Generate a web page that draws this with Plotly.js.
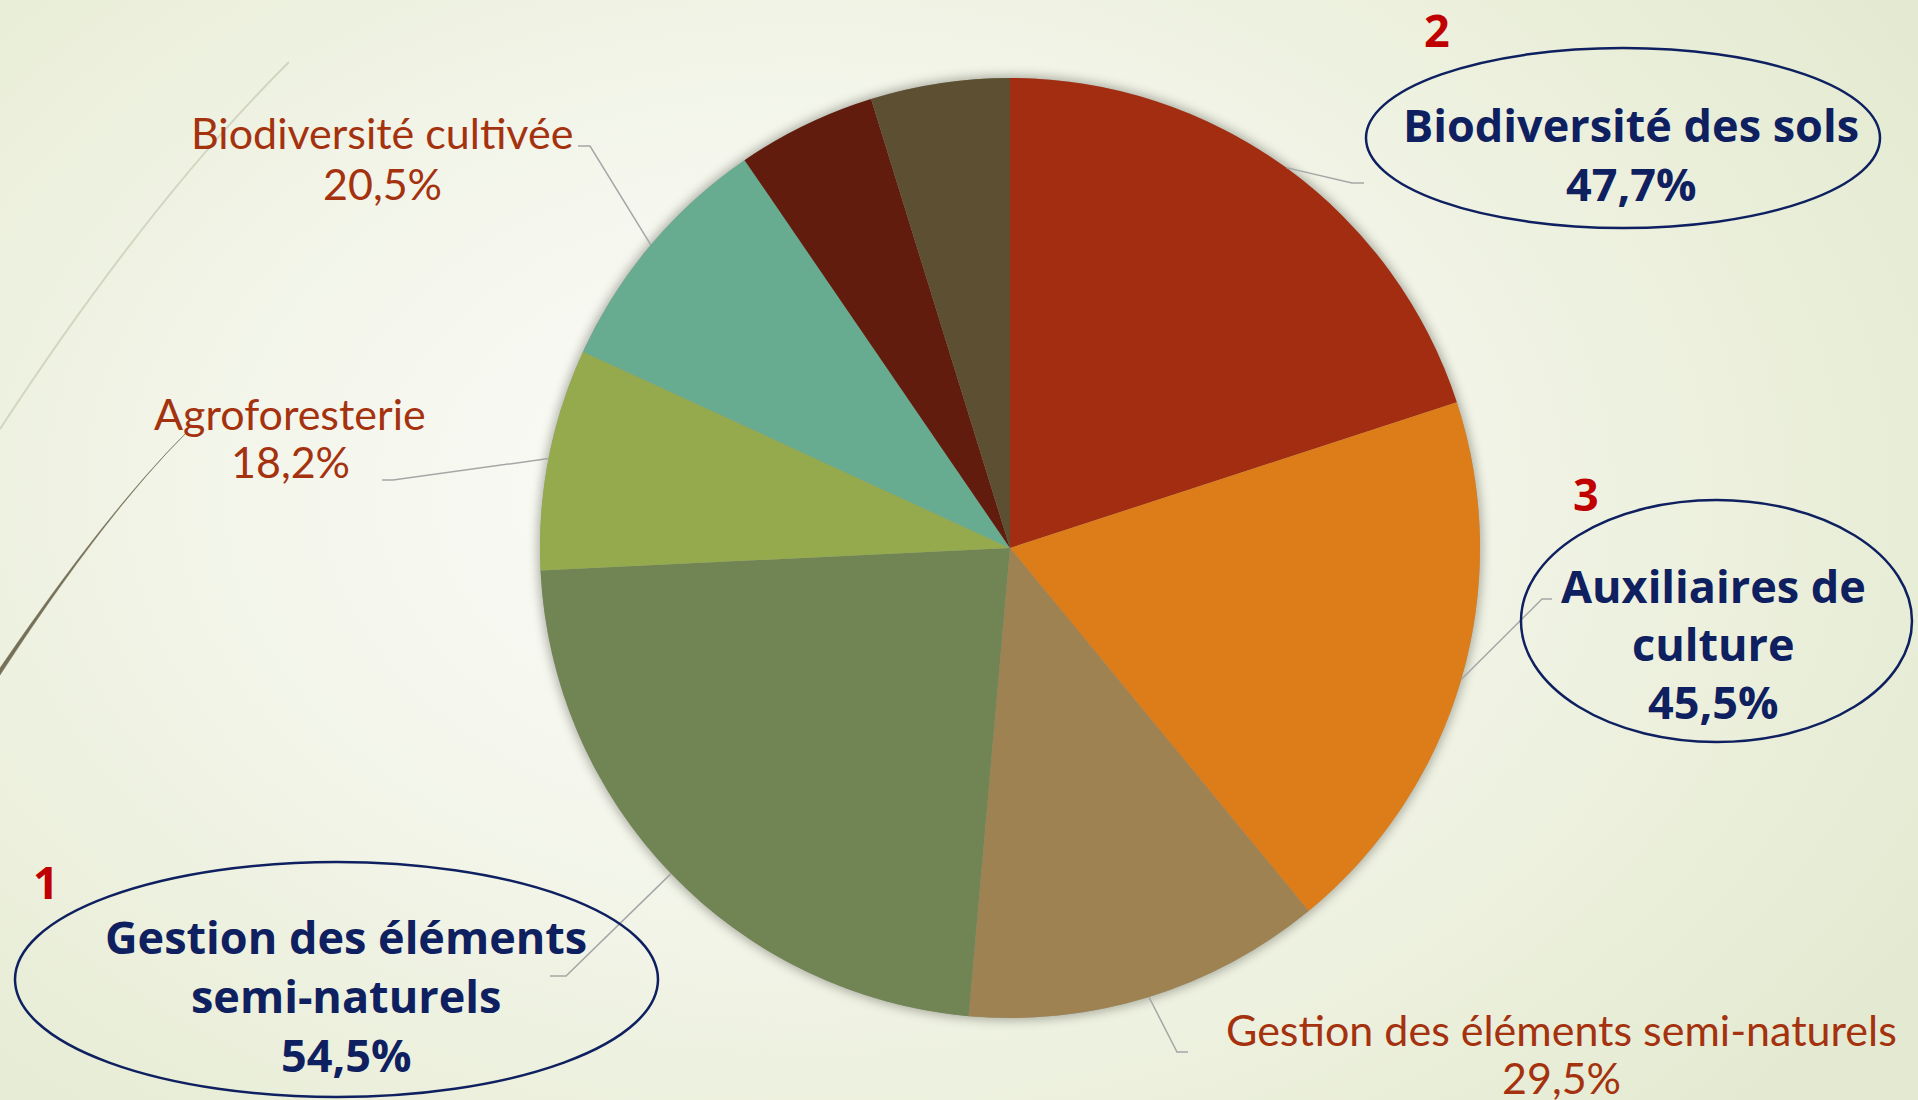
<!DOCTYPE html>
<html>
<head>
<meta charset="utf-8">
<script src="https://cdn.plot.ly/plotly-3.0.1.min.js"></script>
<style>
  html, body { margin: 0; padding: 0; }
  body {
    width: 1918px; height: 1100px; overflow: hidden; position: relative;
    background: radial-gradient(ellipse 1300px 900px at 42% 45%, #fbfcf8 0%, #f5f7ee 35%, #ecf0dd 70%, #e4ead1 100%);
  }
  #shadow {
    position: absolute; left: 540px; top: 78px; width: 940px; height: 940px;
    border-radius: 50%; background: #999;
    box-shadow: 0 0 10px 3px rgba(60, 60, 50, 0.35);
  }
  #chart { position: absolute; left: 0; top: 0; }
</style>
</head>
<body>
<div id="shadow"></div>
<div id="chart"></div>
<script>
// survey answers (share of respondents, several answers possible)
const categories = [
  'Biodiversité des sols',
  'Auxiliaires de<br>culture',
  'Gestion des éléments semi-naturels',
  'Gestion des éléments<br>semi-naturels',
  'Agroforesterie',
  'Biodiversité cultivée',
  '',
  ''
];
const values = [47.7, 45.5, 29.5, 54.5, 18.2, 20.5, 11.4, 11.4];
const ranks = [2, 3, null, 1, null, null, null, null];
const colors = ['#A32D10', '#DC7D19', '#9F8251', '#718453', '#94AA4D', '#67AC90', '#611C0D', '#5D4F32'];

const W = 1918, H = 1100;
const cx = 1010, cy = 548, R = 470;
const px = x => x / W;
const py = y => 1 - y / H;
const fmt = v => v.toFixed(1).replace('.', ',') + '%';

// label placement (pixels): centre x, first line centre y, line gap, leader elbow
const labelPos = [
  { x: 1631, y: 124, gap: 59, elbow: [[1352, 183], [1364, 183]], num: [1437, 30], ell: [1366, 48, 1880, 228] },
  { x: 1713, y: 585, gap: 58, elbow: [[1542, 599], [1552, 599]], num: [1586, 493], ell: [1521, 500, 1912, 742] },
  { x: 1561, y: 1029, gap: 48, elbow: [[1177, 1052], [1188, 1052]] },
  { x: 346, y: 936, gap: 59, elbow: [[566, 976], [550, 976]], num: [46, 881], ell: [15, 862, 658, 1097] },
  { x: 290, y: 413, gap: 49, elbow: [[393, 480], [382, 480]] },
  { x: 382, y: 133, gap: 50, elbow: [[590, 146], [578, 146]] },
  null,
  null
];

const total = values.reduce((a, b) => a + b, 0);
let cum = 0;
const annotations = [];
const shapes = [];

values.forEach((v, i) => {
  const mid = 2 * Math.PI * (cum + v / 2) / total;
  cum += v;
  const p = labelPos[i];
  if (!p) return;
  const ax = cx + R * Math.sin(mid);
  const ay = cy - R * Math.cos(mid);
  let path = `M${px(ax)},${py(ay)}`;
  p.elbow.forEach(e => { path += ` L${px(e[0])},${py(e[1])}`; });
  shapes.push({
    type: 'path', xref: 'paper', yref: 'paper', path: path,
    line: { color: '#a6a6a6', width: 1.5 }
  });

  const big = ranks[i] !== null;
  const lines = categories[i].split('<br>').concat([fmt(v)]);
  lines.forEach((t, k) => {
    annotations.push({
      xref: 'paper', yref: 'paper', x: px(p.x), y: py(p.y + k * p.gap),
      xanchor: 'center', yanchor: 'middle', showarrow: false,
      text: big ? `<b>${t}</b>` : t,
      font: big ? { family: '"Open Sans", sans-serif', size: 45, color: '#0E2060' }
                : { family: 'Lato, sans-serif', size: 43, color: '#A5320F' }
    });
  });
  if (big) {
    shapes.push({
      type: 'circle', xref: 'paper', yref: 'paper',
      x0: px(p.ell[0]), y0: py(p.ell[3]), x1: px(p.ell[2]), y1: py(p.ell[1]),
      line: { color: '#0E2060', width: 2.5 }, fillcolor: 'rgba(0,0,0,0)'
    });
    annotations.push({
      xref: 'paper', yref: 'paper', x: px(p.num[0]), y: py(p.num[1]),
      xanchor: 'center', yanchor: 'middle', showarrow: false,
      text: `<b>${ranks[i]}</b>`,
      font: { family: '"Open Sans", sans-serif', size: 45, color: '#C00000' }
    });
  }
});

// decorative theme arcs on the left
shapes.push({
  type: 'path', xref: 'paper', yref: 'paper', layer: 'below',
  path: `M${px(289)},${py(62)} Q${px(150)},${py(200)} ${px(0)},${py(429)}`,
  line: { color: '#d2d6c1', width: 2 }
});
shapes.push({
  type: 'path', xref: 'paper', yref: 'paper', layer: 'below',
  path: `M${px(187)},${py(432)} Q${px(108)},${py(510)} ${px(0)},${py(668)} L${px(0)},${py(675)} Q${px(105)},${py(514)} ${px(187)},${py(432)} Z`,
  line: { color: '#767058', width: 0.5 }, fillcolor: '#767058'
});

const trace = {
  type: 'pie',
  values: values,
  marker: { colors: colors, line: { width: 0 } },
  sort: false,
  direction: 'clockwise',
  rotation: 0,
  textinfo: 'none',
  hoverinfo: 'skip',
  domain: { x: [px(cx - R), px(cx + R)], y: [py(cy + R), py(cy - R)] }
};

const layout = {
  width: W,
  height: H,
  margin: { l: 0, r: 0, t: 0, b: 0 },
  paper_bgcolor: 'rgba(0,0,0,0)',
  plot_bgcolor: 'rgba(0,0,0,0)',
  showlegend: false,
  annotations: annotations,
  shapes: shapes
};

Plotly.newPlot('chart', [trace], layout, { staticPlot: true, displayModeBar: false });
</script>
</body>
</html>
